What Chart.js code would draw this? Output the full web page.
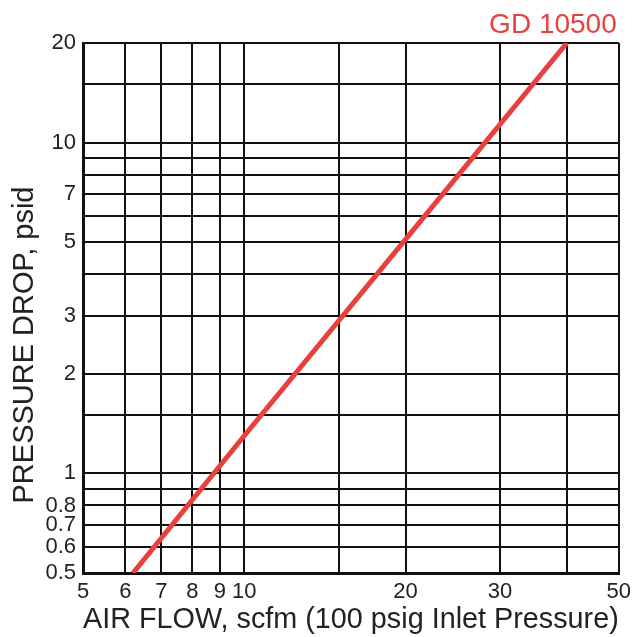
<!DOCTYPE html>
<html>
<head>
<meta charset="utf-8">
<script src="https://cdn.jsdelivr.net/npm/chart.js@4/dist/chart.umd.min.js"></script>
<style>
  html, body { margin: 0; padding: 0; background: #fff; }
  #wrap { width: 637px; height: 637px; }
</style>
</head>
<body>
<div id="wrap"><canvas id="flowChart" width="637" height="637"></canvas></div>
<script>
// values (log-log)
const seriesName = 'GD 10500';
const airFlow = [6.2, 10, 20, 40];
const pressureDrop = [0.5, 1.3, 5.1, 20];

const xGrid = [5, 6, 7, 8, 9, 10, 15, 20, 30, 40, 50];
const xLabels = [5, 6, 7, 8, 9, 10, 20, 30, 50];
const yGrid = [0.5, 0.6, 0.7, 0.8, 0.9, 1, 1.5, 2, 3, 4, 5, 6, 7, 8, 9, 10, 15, 20];
const yLabels = [0.5, 0.6, 0.7, 0.8, 1, 2, 3, 5, 7, 10, 20];

const xTitle = 'AIR FLOW, scfm (100 psig Inlet Pressure)';
const yTitle = 'PRESSURE DROP, psid';

const FONT = 'Liberation Sans, Arial, sans-serif';
const RED = '#E8403F';

// series name above the plot, and the y title (sits a bit below centre in the original)
const extraText = {
    id: 'extraText',
    afterDraw(chart) {
        const { ctx, chartArea } = chart;
        ctx.save();
        ctx.font = '28px ' + FONT;
        ctx.fillStyle = RED;
        ctx.textAlign = 'right';
        ctx.textBaseline = 'alphabetic';
        ctx.fillText(chart.data.datasets[0].label, chartArea.right - 2, chartArea.top - 10);

        ctx.font = '29px ' + FONT;
        ctx.fillStyle = '#222';
        ctx.textAlign = 'center';
        ctx.textBaseline = 'middle';
        ctx.translate(25, (chartArea.top + chartArea.bottom) / 2 + 37);
        ctx.rotate(-Math.PI / 2);
        ctx.fillText(yTitle, 0, 0);
        ctx.restore();
    }
};

new Chart(document.getElementById('flowChart'), {
    type: 'line',
    data: {
        datasets: [{
            label: seriesName,
            data: airFlow.map((x, i) => ({ x, y: pressureDrop[i] })),
            borderColor: RED, borderWidth: 5, borderCapStyle: 'butt',
            pointRadius: 0, tension: 0, fill: false
        }]
    },
    options: {
        responsive: false, animation: false, devicePixelRatio: 1,
        layout: { padding: { top: 43, right: 18, left: 0, bottom: 0 } },
        plugins: { legend: { display: false }, tooltip: { enabled: false } },
        scales: {
            x: {
                type: 'logarithmic', min: 5, max: 50,
                afterBuildTicks: s => { s.ticks = xGrid.map(v => ({ value: v })); },
                afterFit: s => { s.height = 64; },
                ticks: {
                    autoSkip: false, maxRotation: 0, padding: 6, color: '#222',
                    font: { family: FONT, size: 22 },
                    callback: v => xLabels.includes(v) ? String(v) : ''
                },
                grid: { color: '#111', lineWidth: 2, drawTicks: false },
                border: { color: '#111', width: 3 },
                title: {
                    display: true, text: xTitle,
                    color: '#222', font: { family: FONT, size: 29 }, padding: { top: 0, bottom: 0 }
                }
            },
            y: {
                type: 'logarithmic', min: 0.5, max: 20,
                afterBuildTicks: s => { s.ticks = yGrid.map(v => ({ value: v })); },
                afterFit: s => { s.width = 83; },
                ticks: {
                    autoSkip: false, padding: 7, color: '#222',
                    font: { family: FONT, size: 22 },
                    callback: v => yLabels.includes(v) ? String(v) : ''
                },
                grid: { color: '#111', lineWidth: 2, drawTicks: false },
                border: { color: '#111', width: 3 }
            }
        }
    },
    plugins: [extraText]
});
</script>
</body>
</html>
